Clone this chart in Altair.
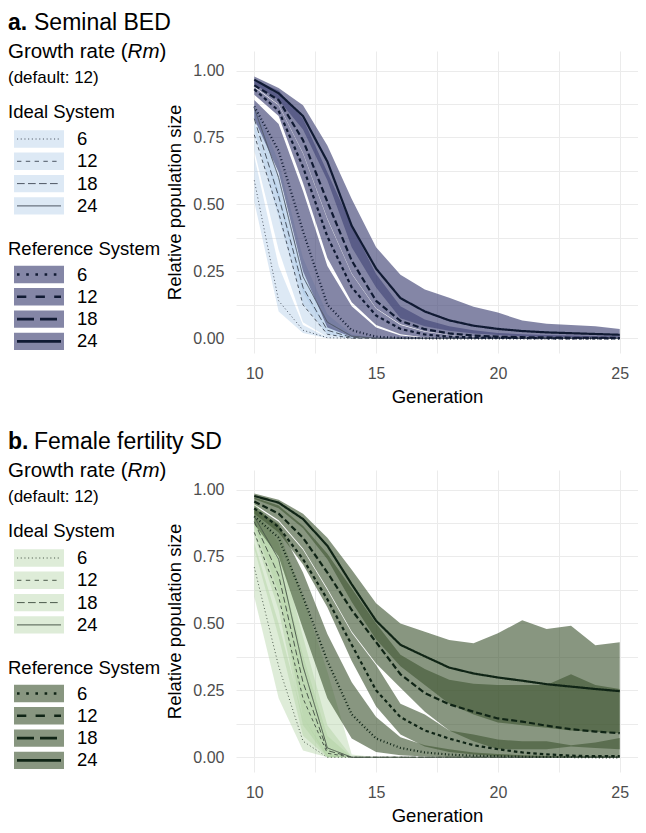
import altair as alt
import pandas as pd

GENERATIONS = list(range(10, 26))
RM_LEVELS = ["6", "12", "18", "24"]
SYSTEMS = ["Ideal System", "Reference System"]

X_TICKS = [10, 12.5, 15, 17.5, 20, 22.5, 25]
Y_TICKS = [0, 0.125, 0.25, 0.375, 0.5, 0.625, 0.75, 0.875, 1.0]

# ---------------- panel a : Seminal BED ----------------
A_IDEAL_6_MEAN = [0.59, 0.14, 0.03, 0.002, 0, 0, 0, 0, 0, 0, 0, 0, 0, 0, 0, 0]
A_IDEAL_6_LOW = [0.51, 0.10, 0.02, 0.0, 0, 0, 0, 0, 0, 0, 0, 0, 0, 0, 0, 0]
A_IDEAL_6_HIGH = [0.68, 0.27, 0.05, 0.004, 0, 0, 0, 0, 0, 0, 0, 0, 0, 0, 0, 0]
A_IDEAL_12_MEAN = [0.76, 0.47, 0.125, 0.015, 0, 0, 0, 0, 0, 0, 0, 0, 0, 0, 0, 0]
A_IDEAL_12_LOW = [0.70, 0.33, 0.06, 0.005, 0, 0, 0, 0, 0, 0, 0, 0, 0, 0, 0, 0]
A_IDEAL_12_HIGH = [0.80, 0.55, 0.19, 0.03, 0.003, 0, 0, 0, 0, 0, 0, 0, 0, 0, 0, 0]
A_IDEAL_18_MEAN = [0.82, 0.53, 0.19, 0.03, 0.003, 0, 0, 0, 0, 0, 0, 0, 0, 0, 0, 0]
A_IDEAL_18_LOW = [0.78, 0.45, 0.13, 0.015, 0, 0, 0, 0, 0, 0, 0, 0, 0, 0, 0, 0]
A_IDEAL_18_HIGH = [0.85, 0.60, 0.25, 0.05, 0.006, 0, 0, 0, 0, 0, 0, 0, 0, 0, 0, 0]
A_IDEAL_24_MEAN = [0.86, 0.60, 0.23, 0.06, 0.008, 0, 0, 0, 0, 0, 0, 0, 0, 0, 0, 0]
A_IDEAL_24_LOW = [0.83, 0.52, 0.17, 0.03, 0.002, 0, 0, 0, 0, 0, 0, 0, 0, 0, 0, 0]
A_IDEAL_24_HIGH = [0.88, 0.66, 0.30, 0.09, 0.015, 0.002, 0, 0, 0, 0, 0, 0, 0, 0, 0, 0]

A_REF_6_MEAN = [0.866, 0.70, 0.40, 0.125, 0.03, 0.006, 0.001, 0, 0, 0, 0, 0, 0, 0, 0, 0]
A_REF_6_LOW = [0.82, 0.62, 0.25, 0.04, 0.005, 0, 0, 0, 0, 0, 0, 0, 0, 0, 0, 0]
A_REF_6_HIGH = [0.89, 0.80, 0.55, 0.27, 0.12, 0.04, 0.01, 0.002, 0, 0, 0, 0, 0, 0, 0, 0]
A_REF_12_MEAN = [0.93, 0.85, 0.64, 0.38, 0.19, 0.085, 0.035, 0.014, 0.006, 0.003, 0.002, 0.001, 0, 0, 0, 0]
A_REF_12_LOW = [0.91, 0.83, 0.58, 0.30, 0.135, 0.05, 0.015, 0.003, 0, 0, 0, 0, 0, 0, 0, 0]
A_REF_12_HIGH = [0.938, 0.87, 0.69, 0.445, 0.24, 0.11, 0.05, 0.024, 0.012, 0.006, 0.004, 0.002, 0.0015, 0.001, 0.001, 0.001]
A_REF_18_MEAN = [0.945, 0.89, 0.74, 0.51, 0.29, 0.14, 0.065, 0.034, 0.018, 0.01, 0.006, 0.004, 0.003, 0.002, 0.002, 0.002]
A_REF_18_LOW = [0.94, 0.872, 0.692, 0.447, 0.242, 0.112, 0.052, 0.026, 0.013, 0.007, 0.004, 0.0025, 0.002, 0.0012, 0.0012, 0.0012]
A_REF_18_HIGH = [0.965, 0.925, 0.82, 0.62, 0.42, 0.24, 0.12, 0.07, 0.045, 0.03, 0.02, 0.015, 0.012, 0.01, 0.008, 0.007]
A_REF_24_MEAN = [0.966, 0.915, 0.83, 0.66, 0.42, 0.26, 0.15, 0.10, 0.067, 0.047, 0.035, 0.027, 0.022, 0.019, 0.016, 0.013]
A_REF_24_LOW = [0.95, 0.89, 0.78, 0.59, 0.34, 0.19, 0.075, 0.045, 0.028, 0.018, 0.012, 0.008, 0.006, 0.005, 0.004, 0.003]
A_REF_24_HIGH = [0.978, 0.935, 0.87, 0.72, 0.52, 0.34, 0.237, 0.182, 0.151, 0.118, 0.096, 0.066, 0.054, 0.05, 0.045, 0.035]

# ---------------- panel b : Female fertility SD ----------------
B_IDEAL_6_MEAN = [0.71, 0.34, 0.06, 0.0, 0, 0, 0, 0, 0, 0, 0, 0, 0, 0, 0, 0]
B_IDEAL_6_LOW = [0.60, 0.22, 0.025, 0.0, 0, 0, 0, 0, 0, 0, 0, 0, 0, 0, 0, 0]
B_IDEAL_6_HIGH = [0.80, 0.50, 0.15, 0.01, 0, 0, 0, 0, 0, 0, 0, 0, 0, 0, 0, 0]
B_IDEAL_12_MEAN = [0.84, 0.60, 0.22, 0.015, 0, 0, 0, 0, 0, 0, 0, 0, 0, 0, 0, 0]
B_IDEAL_12_LOW = [0.78, 0.45, 0.08, 0.0, 0, 0, 0, 0, 0, 0, 0, 0, 0, 0, 0, 0]
B_IDEAL_12_HIGH = [0.90, 0.74, 0.38, 0.08, 0, 0, 0, 0, 0, 0, 0, 0, 0, 0, 0, 0]
B_IDEAL_18_MEAN = [0.88, 0.68, 0.28, 0.025, 0, 0, 0, 0, 0, 0, 0, 0, 0, 0, 0, 0]
B_IDEAL_18_LOW = [0.83, 0.55, 0.12, 0.0, 0, 0, 0, 0, 0, 0, 0, 0, 0, 0, 0, 0]
B_IDEAL_18_HIGH = [0.93, 0.80, 0.45, 0.12, 0.002, 0, 0, 0, 0, 0, 0, 0, 0, 0, 0, 0]
B_IDEAL_24_MEAN = [0.90, 0.74, 0.34, 0.035, 0, 0, 0, 0, 0, 0, 0, 0, 0, 0, 0, 0]
B_IDEAL_24_LOW = [0.86, 0.62, 0.15, 0.0, 0, 0, 0, 0, 0, 0, 0, 0, 0, 0, 0, 0]
B_IDEAL_24_HIGH = [0.95, 0.85, 0.60, 0.32, 0.01, 0, 0, 0, 0, 0, 0, 0, 0, 0, 0, 0]

B_REF_6_MEAN = [0.90, 0.82, 0.60, 0.36, 0.16, 0.07, 0.035, 0.018, 0.01, 0.006, 0.004, 0.002, 0.001, 0.001, 0, 0]
B_REF_6_LOW = [0.87, 0.75, 0.48, 0.22, 0.07, 0.02, 0.008, 0.003, 0.001, 0, 0, 0, 0, 0, 0, 0]
B_REF_6_HIGH = [0.93, 0.87, 0.69, 0.46, 0.28, 0.15, 0.075, 0.045, 0.03, 0.018, 0.012, 0.008, 0.005, 0.003, 0.002, 0.001]
B_REF_12_MEAN = [0.93, 0.86, 0.74, 0.59, 0.42, 0.25, 0.15, 0.10, 0.07, 0.045, 0.03, 0.018, 0.011, 0.006, 0.004, 0.004]
B_REF_12_LOW = [0.91, 0.84, 0.72, 0.56, 0.36, 0.19, 0.085, 0.04, 0.02, 0.01, 0.004, 0.002, 0.001, 0, 0, 0]
B_REF_12_HIGH = [0.94, 0.88, 0.775, 0.625, 0.465, 0.345, 0.20, 0.16, 0.10, 0.085, 0.066, 0.06, 0.06, 0.045, 0.055, 0.072]
B_REF_18_MEAN = [0.955, 0.91, 0.82, 0.69, 0.55, 0.43, 0.31, 0.24, 0.198, 0.17, 0.145, 0.133, 0.118, 0.105, 0.096, 0.09]
B_REF_18_LOW = [0.945, 0.885, 0.78, 0.63, 0.47, 0.35, 0.26, 0.17, 0.10, 0.06, 0.03, 0.03, 0.03, 0.04, 0.035, 0.03]
B_REF_18_HIGH = [0.97, 0.94, 0.865, 0.76, 0.63, 0.50, 0.383, 0.33, 0.29, 0.275, 0.27, 0.27, 0.27, 0.31, 0.27, 0.255]
B_REF_24_MEAN = [0.976, 0.951, 0.89, 0.79, 0.646, 0.51, 0.42, 0.377, 0.335, 0.313, 0.298, 0.286, 0.273, 0.264, 0.255, 0.247]
B_REF_24_LOW = [0.965, 0.93, 0.855, 0.74, 0.58, 0.44, 0.34, 0.27, 0.20, 0.16, 0.13, 0.12, 0.11, 0.10, 0.095, 0.09]
B_REF_24_HIGH = [0.985, 0.962, 0.91, 0.82, 0.70, 0.575, 0.50, 0.469, 0.438, 0.426, 0.463, 0.512, 0.479, 0.491, 0.418, 0.43]

A_SERIES = [
    ("Ideal System", "6", A_IDEAL_6_MEAN, A_IDEAL_6_LOW, A_IDEAL_6_HIGH),
    ("Ideal System", "12", A_IDEAL_12_MEAN, A_IDEAL_12_LOW, A_IDEAL_12_HIGH),
    ("Ideal System", "18", A_IDEAL_18_MEAN, A_IDEAL_18_LOW, A_IDEAL_18_HIGH),
    ("Ideal System", "24", A_IDEAL_24_MEAN, A_IDEAL_24_LOW, A_IDEAL_24_HIGH),
    ("Reference System", "6", A_REF_6_MEAN, A_REF_6_LOW, A_REF_6_HIGH),
    ("Reference System", "12", A_REF_12_MEAN, A_REF_12_LOW, A_REF_12_HIGH),
    ("Reference System", "18", A_REF_18_MEAN, A_REF_18_LOW, A_REF_18_HIGH),
    ("Reference System", "24", A_REF_24_MEAN, A_REF_24_LOW, A_REF_24_HIGH),
]
B_SERIES = [
    ("Ideal System", "6", B_IDEAL_6_MEAN, B_IDEAL_6_LOW, B_IDEAL_6_HIGH),
    ("Ideal System", "12", B_IDEAL_12_MEAN, B_IDEAL_12_LOW, B_IDEAL_12_HIGH),
    ("Ideal System", "18", B_IDEAL_18_MEAN, B_IDEAL_18_LOW, B_IDEAL_18_HIGH),
    ("Ideal System", "24", B_IDEAL_24_MEAN, B_IDEAL_24_LOW, B_IDEAL_24_HIGH),
    ("Reference System", "6", B_REF_6_MEAN, B_REF_6_LOW, B_REF_6_HIGH),
    ("Reference System", "12", B_REF_12_MEAN, B_REF_12_LOW, B_REF_12_HIGH),
    ("Reference System", "18", B_REF_18_MEAN, B_REF_18_LOW, B_REF_18_HIGH),
    ("Reference System", "24", B_REF_24_MEAN, B_REF_24_LOW, B_REF_24_HIGH),
]

FONT = "Liberation Sans"
PLOT_W = 402
PLOT_H = 302

PLOT_DASH = {"Ideal System": [[1, 2.5], [3.5, 3], [6, 3], [1, 0]],
             "Reference System": [[2.2, 3.8], [7, 5.5], [13, 5.5], [1, 0]]}
LEG_DASH = {"Ideal System": [[1.1, 2.6], [4.4, 4.4], [7.7, 3.3], [1, 0]],
            "Reference System": [[2.6, 6.6], [9.3, 9.3], [17, 6], [1, 0]]}
PLOT_WIDTH = {"Ideal System": 1.0, "Reference System": 2.2}
LEG_WIDTH = {"Ideal System": 1.0, "Reference System": 2.6}

PAL_A = dict(ideal_fill="#9ec0e2", ideal_alpha=0.35, ref_fill="#454878", ref_alpha=0.66,
             ideal_box="#dde9f5", ref_box="#8486a6", ideal_line="#4e5764", ref_line="#101a33")
PAL_B = dict(ideal_fill="#accf9d", ideal_alpha=0.40, ref_fill="#3f5632", ref_alpha=0.62,
             ideal_box="#deecd8", ref_box="#889680", ideal_line="#4c5a4c", ref_line="#0f2415")


def frame(series):
    rows = []
    for system, rm, mean, low, high in series:
        for g, m, lo, hi in zip(GENERATIONS, mean, low, high):
            rows.append({"gen": g, "key": f"{system}|{rm}", "system": system,
                         "mean": m, "low": lo, "high": hi})
    return pd.DataFrame(rows)


def text_layer(text, x, y, size, weight="normal", style="normal", baseline="alphabetic"):
    return alt.Chart(pd.DataFrame({"t": [text]})).mark_text(
        align="left", baseline=baseline, fontSize=size, fontWeight=weight,
        fontStyle=style, color="black", font=FONT
    ).encode(x=alt.value(x), y=alt.value(y), text="t:N")


def panel(letter, name, series, pal):
    df = frame(series)
    x_axis = alt.Axis(values=X_TICKS, labelExpr="datum.value % 5 === 0 ? datum.label : ''",
                      title="Generation", grid=True, gridColor="#ebebeb", gridWidth=1,
                      domain=False, ticks=False, tickSize=0, labelPadding=12,
                      labelFontSize=16, labelColor="#4d4d4d", labelFlush=False,
                      labelOverlap=False, titleFontSize=18.5, titleFontWeight="normal",
                      titleColor="black", titlePadding=6, labelFont=FONT, titleFont=FONT)
    y_axis = alt.Axis(values=Y_TICKS,
                      labelExpr="datum.value % 0.25 === 0 ? format(datum.value, '.2f') : ''",
                      title="Relative population size", grid=True, gridColor="#ebebeb",
                      gridWidth=1, domain=False, ticks=False, tickSize=0, labelPadding=12,
                      labelFontSize=16, labelColor="#4d4d4d", labelFlush=False,
                      labelOverlap=False, titleFontSize=18.5, titleFontWeight="normal",
                      titleColor="black", titlePadding=8, labelFont=FONT, titleFont=FONT)
    xs = alt.Scale(domain=[9.25, 25.75], nice=False, zero=False)
    ys = alt.Scale(domain=[-0.055, 1.073], nice=False, zero=False)
    x = alt.X("gen:Q", scale=xs, axis=x_axis)
    base = alt.Chart(df)

    layers = []
    fills = {"Ideal System": (pal["ideal_fill"], pal["ideal_alpha"]),
             "Reference System": (pal["ref_fill"], pal["ref_alpha"])}
    for system in SYSTEMS:
        col, alpha = fills[system]
        layers.append(base.transform_filter(alt.datum.system == system).mark_area(
            fill=col, fillOpacity=alpha, strokeWidth=0
        ).encode(x=x, y=alt.Y("low:Q", scale=ys, axis=y_axis), y2="high:Q", detail="key:N"))

    for system in SYSTEMS:
        keys = [f"{system}|{r}" for r in RM_LEVELS]
        col = pal["ideal_line"] if system == "Ideal System" else pal["ref_line"]
        layers.append(base.transform_filter(alt.datum.system == system).mark_line(
            strokeCap="butt", strokeJoin="round", strokeWidth=PLOT_WIDTH[system], color=col
        ).encode(
            x=x, y=alt.Y("mean:Q", scale=ys, axis=y_axis), detail="key:N",
            strokeDash=alt.StrokeDash(
                "key:N", scale=alt.Scale(domain=keys, range=PLOT_DASH[system]), legend=None),
        ))

    # ---- legend / titles (positions relative to the plot area) ----
    x0 = -228
    layers.append(text_layer(letter, x0, -21.5, 23, weight="bold"))
    layers.append(text_layer(name, x0 + 26, -21.5, 23))
    layers.append(text_layer("Growth rate (", x0, 7, 20.5))
    layers.append(text_layer("Rm", x0 + 119.6, 7, 20.5, style="italic"))
    layers.append(text_layer(")", x0 + 151.5, 7, 20.5))
    layers.append(text_layer("(default: 12)", x0, 31.5, 17))

    groups = [("Ideal System", 66.5, 88, pal["ideal_box"], pal["ideal_line"]),
              ("Reference System", 204, 223.5, pal["ref_box"], pal["ref_line"])]
    step = 22.3
    for system, header_y, first_y, box_col, line_col in groups:
        layers.append(text_layer(system, x0, header_y, 18.5))
        for i, rm in enumerate(RM_LEVELS):
            cy = first_y + i * step
            one = pd.DataFrame({"t": [rm]})
            layers.append(alt.Chart(one).mark_rect(color=box_col).encode(
                x=alt.value(x0 + 6), x2=alt.value(x0 + 56),
                y=alt.value(cy - 8.7), y2=alt.value(cy + 8.7)))
            layers.append(alt.Chart(one).mark_rule(
                color=line_col, strokeWidth=LEG_WIDTH[system], strokeDash=LEG_DASH[system][i],
                strokeCap="butt").encode(
                x=alt.value(x0 + 9), x2=alt.value(x0 + 53), y=alt.value(cy)))
            layers.append(text_layer(rm, x0 + 69, cy, 18.5, baseline="middle"))

    return alt.layer(*layers).properties(width=PLOT_W, height=PLOT_H)


panel_a = panel("a.", "Seminal BED", A_SERIES, PAL_A)
panel_b = panel("b.", "Female fertility SD", B_SERIES, PAL_B)

chart = alt.vconcat(panel_a, panel_b, spacing=24).properties(
    padding={"left": 0, "right": 0, "top": 3, "bottom": 0}
).configure(font=FONT).configure_view(stroke=None)

chart.save("out.html", embed_options={"renderer": "svg", "actions": False})
